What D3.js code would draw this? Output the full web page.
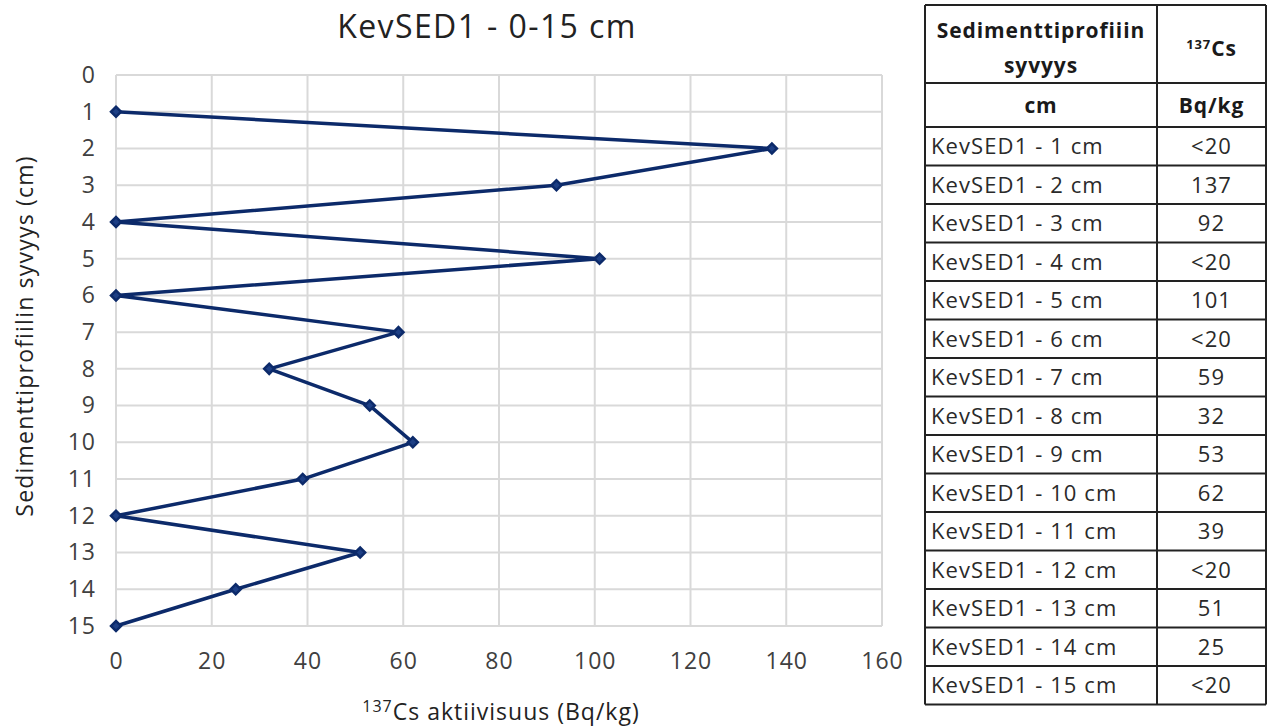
<!DOCTYPE html>
<html>
<head>
<meta charset="utf-8">
<script src="https://cdn.jsdelivr.net/npm/d3@7"></script>
<style>
  body { margin: 0; background: #fff; }
  svg text { font-family: "Open Sans", Lato, sans-serif; }
</style>
</head>
<body>
<script>
// Depth (cm) and 137Cs activity (Bq/kg); "<20" rows are plotted at 0
const depths = [1, 2, 3, 4, 5, 6, 7, 8, 9, 10, 11, 12, 13, 14, 15];
const activity = [0, 137, 92, 0, 101, 0, 59, 32, 53, 62, 39, 0, 51, 25, 0];
const tableLabels = depths.map(d => 'KevSED1 - ' + d + ' cm');
const tableValues = ['<20', '137', '92', '<20', '101', '<20', '59', '32', '53', '62', '39', '<20', '51', '25', '<20'];
const xTicks = [0, 20, 40, 60, 80, 100, 120, 140, 160];
const yTicks = d3.range(0, 16);

const width = 1267, height = 727;
const svg = d3.select('body').append('svg')
  .attr('width', width).attr('height', height);

// Plot area
const x = d3.scaleLinear().domain([0, 160]).range([116, 882]);
const y = d3.scaleLinear().domain([0, 15]).range([75, 626]);
const lineColor = '#0c2a6a';

// Grid lines
const grid = svg.append('g').attr('id', 'grid');
grid.selectAll('line.h').data(yTicks).enter().append('line')
  .attr('x1', x(0)).attr('x2', x(160))
  .attr('y1', d => y(d)).attr('y2', d => y(d))
  .attr('stroke', '#d9d9d9').attr('stroke-width', 2);
grid.selectAll('line.v').data(xTicks).enter().append('line')
  .attr('y1', y(0)).attr('y2', y(15))
  .attr('x1', d => x(d)).attr('x2', d => x(d))
  .attr('stroke', '#d9d9d9').attr('stroke-width', 2);

// Axes (labels only, like the original)
const xAxis = svg.append('g').attr('transform', `translate(0,${y(15) + 19})`)
  .call(d3.axisBottom(x).tickValues(xTicks).tickSize(0).tickPadding(8));
const yAxis = svg.append('g').attr('transform', `translate(${x(0) - 20},0)`)
  .call(d3.axisLeft(y).tickValues(yTicks).tickSize(0).tickPadding(0));
[xAxis, yAxis].forEach(a => {
  a.select('.domain').remove();
  a.selectAll('text').attr('font-size', 23).attr('fill', '#404040')
    .attr('letter-spacing', 1)
    .style('font-family', '"Open Sans", Lato, sans-serif');
});

// Data line and markers
const pts = depths.map((d, i) => ({ depth: d, value: activity[i] }));
svg.append('path').datum(pts)
  .attr('fill', 'none').attr('stroke', lineColor).attr('stroke-width', 3.5)
  .attr('stroke-linejoin', 'round')
  .attr('d', d3.line().x(d => x(d.value)).y(d => y(d.depth)));
svg.append('g').selectAll('path').data(pts).enter().append('path')
  .attr('d', d3.symbol(d3.symbolSquare, 50))
  .attr('transform', d => `translate(${x(d.value)},${y(d.depth)}) rotate(45)`)
  .attr('fill', '#1d3f85').attr('stroke', lineColor).attr('stroke-width', 2.5);

// Titles
svg.append('text').attr('x', 487).attr('y', 38).attr('text-anchor', 'middle')
  .attr('font-size', 32).attr('letter-spacing', 1.4).attr('fill', '#222')
  .text('KevSED1 - 0-15 cm');
svg.append('text').attr('transform', 'translate(33,336) rotate(-90)')
  .attr('text-anchor', 'middle').attr('font-size', 23).attr('letter-spacing', 1.2)
  .attr('fill', '#222').text('Sedimenttiprofiilin syvyys (cm)');
const xt = svg.append('text').attr('x', 501).attr('y', 720)
  .attr('text-anchor', 'middle').attr('font-size', 23).attr('letter-spacing', 1)
  .attr('fill', '#222');
xt.append('tspan').attr('font-size', 16).attr('dy', -8).text('137');
xt.append('tspan').attr('dy', 8).text('Cs aktiivisuus (Bq/kg)');

// Table
const tLeft = 925, tMid = 1157, tRight = 1266;
const rowTops = [5, 83, 127];
for (let i = 1; i <= 15; i++) rowTops.push(127 + i * 38.5);
const table = svg.append('g').attr('id', 'table');
rowTops.forEach(t => {
  table.append('line').attr('x1', tLeft).attr('x2', tRight)
    .attr('y1', t).attr('y2', t).attr('stroke', '#222').attr('stroke-width', 2);
});
[tLeft, tMid, tRight].forEach(c => {
  table.append('line').attr('x1', c).attr('x2', c)
    .attr('y1', rowTops[0]).attr('y2', rowTops[rowTops.length - 1])
    .attr('stroke', '#222').attr('stroke-width', 2);
});

// Header
const c1 = (tLeft + tMid) / 2, c2 = (tMid + tRight) / 2;
const headerText = (tx, ty, s) => table.append('text').attr('x', tx).attr('y', ty)
  .attr('text-anchor', 'middle').attr('font-size', 21).attr('font-weight', 'bold')
  .attr('letter-spacing', 0.9).attr('fill', '#1a1a1a').text(s);
headerText(c1, 38, 'Sedimenttiprofiiin');
headerText(c1, 73, 'syvyys');
const hCs = headerText(c2, 56, '');
hCs.append('tspan').attr('font-size', 13).attr('dy', -7).text('137');
hCs.append('tspan').attr('dy', 7).text('Cs');
headerText(c1, 113, 'cm');
headerText(c2, 113, 'Bq/kg');

// Body rows
tableLabels.forEach((lab, i) => {
  const mid = (rowTops[i + 2] + rowTops[i + 3]) / 2;
  table.append('text').attr('x', tLeft + 6).attr('y', mid + 8)
    .attr('font-size', 22).attr('letter-spacing', 1.1).attr('fill', '#2a2a2a').text(lab);
  table.append('text').attr('x', c2).attr('y', mid + 8).attr('text-anchor', 'middle')
    .attr('font-size', 22).attr('letter-spacing', 1.1).attr('fill', '#2a2a2a').text(tableValues[i]);
});
</script>
</body>
</html>
